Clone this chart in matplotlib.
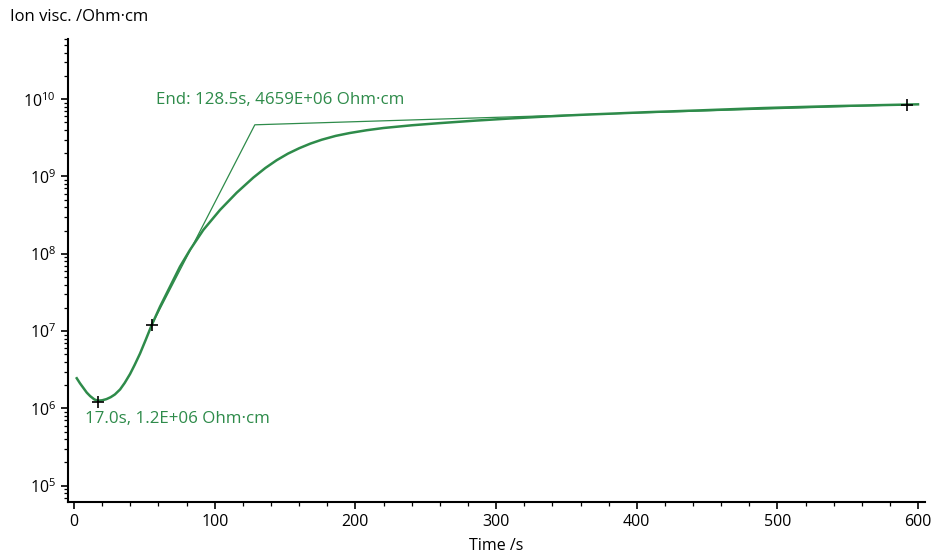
import matplotlib
matplotlib.use("Agg")
import matplotlib.pyplot as plt
from matplotlib.ticker import FixedLocator, MultipleLocator, NullFormatter, LogFormatterMathtext

# ---- data ----
time_s = [1.9, 4.2, 6.6, 9.0, 11.4, 14.5, 17.0, 20.0, 23.0, 26.0,
          29.0, 32.7, 36.0, 39.8, 43.0, 46.9, 51.0, 55.2, 61.1, 68.2,
          75.3, 82.4, 91.9, 103.8, 115.6, 127.4, 136.0, 144.0, 152.0, 160.0,
          168.0, 176.0, 186.0, 196.0, 208.0, 220.0, 240.0, 260.0, 285.0, 310.0,
          335.0, 360.0, 385.0, 405.0, 445.0, 490.0, 540.0, 592.0, 599.9]
ion_visc = [2.455e6, 2.113e6, 1.841e6, 1.603e6, 1.445e6, 1.303e6, 1.259e6, 1.274e6, 1.318e6, 1.396e6,
            1.514e6, 1.758e6, 2.138e6, 2.786e6, 3.631e6, 5.129e6, 7.762e6, 1.199e7, 2.070e7, 3.758e7,
            6.823e7, 1.122e8, 2.037e8, 3.698e8, 6.166e8, 9.661e8, 1.288e9, 1.622e9, 1.972e9, 2.317e9,
            2.661e9, 2.985e9, 3.350e9, 3.648e9, 3.963e9, 4.236e9, 4.592e9, 4.898e9, 5.272e9, 5.623e9,
            5.957e9, 6.266e9, 6.531e9, 6.761e9, 7.161e9, 7.674e9, 8.128e9, 8.511e9, 8.570e9]

tangent_t = [55.2, 128.5, 592.2]
tangent_v = [1.20e7, 4.659e9, 8.50e9]

marker_t = [17.0, 55.2, 592.2]
marker_v = [1.2e6, 1.20e7, 8.50e9]

y_major = [1e5, 1e6, 1e7, 1e8, 1e9, 1e10]

min_label = "17.0s, 1.2E+06 Ohm·cm"
end_label = "End: 128.5s, 4659E+06 Ohm·cm"

green = "#2e8b4a"

plt.rcParams['font.family'] = ['Open Sans', 'DejaVu Sans']
plt.rcParams['mathtext.fontset'] = 'custom'
plt.rcParams['mathtext.rm'] = 'Open Sans'

fig = plt.figure(figsize=(9.33, 5.55), dpi=100)
ax = fig.add_axes([0.0726, 0.096, 0.919, 0.834])

ax.plot(tangent_t, tangent_v, color=green, lw=0.9)
ax.plot(time_s, ion_visc, color=green, lw=1.8)
ax.plot(marker_t, marker_v, linestyle='none', marker='+', color='black',
        markersize=9, markeredgewidth=1.2)

ax.set_yscale('log')
ax.set_xlim(-4.5, 605)
ax.set_ylim(10**4.793, 10**10.78)

ax.xaxis.set_major_locator(MultipleLocator(100))
ax.xaxis.set_minor_locator(MultipleLocator(20))
ax.yaxis.set_major_locator(FixedLocator(y_major))
ax.yaxis.set_major_formatter(LogFormatterMathtext())
minors = [m * d for d in [1e4, 1e5, 1e6, 1e7, 1e8, 1e9, 1e10] for m in range(2, 10)]
minors = [v for v in minors if 10**4.793 <= v <= 10**10.78]
ax.yaxis.set_minor_locator(FixedLocator(minors))
ax.yaxis.set_minor_formatter(NullFormatter())

for s in ['top', 'right']:
    ax.spines[s].set_visible(False)
for s in ['left', 'bottom']:
    ax.spines[s].set_linewidth(1.5)

ax.tick_params(which='major', length=5, width=1.2, labelsize=11.5, colors='black')
ax.tick_params(which='minor', length=3, width=0.9)

ax.text(7.8, 7.3e5, min_label, color=green, fontsize=12.2,
        ha='left', va='center')
ax.text(58.3, 9.8e9, end_label, color=green, fontsize=12.2,
        ha='left', va='center')

fig.text(10 / 933, 1 - 17 / 555, "Ion visc. /Ohm·cm", fontsize=12,
         ha='left', va='center')
ax.set_xlabel("Time /s", fontsize=11.5, labelpad=6)

fig.savefig("out.png", dpi=100)
